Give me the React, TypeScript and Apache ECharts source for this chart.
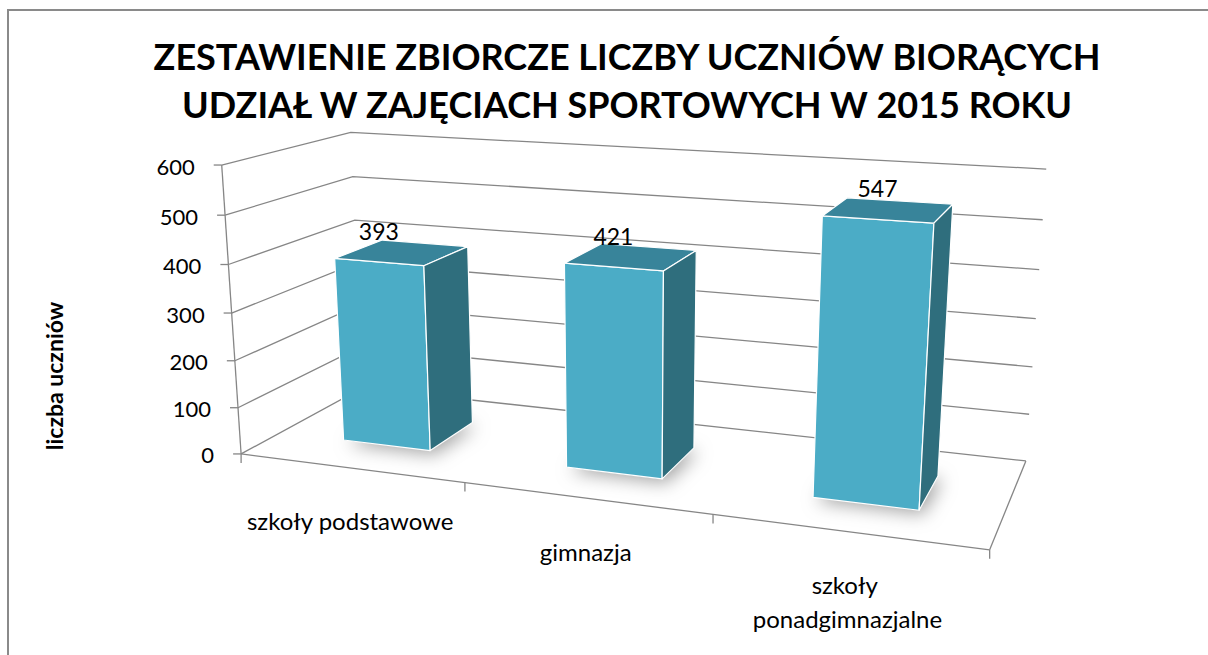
import React, { useEffect, useRef } from "react";
import * as echarts from "echarts";

const TITLE_LINES = [
  "ZESTAWIENIE ZBIORCZE LICZBY UCZNIÓW BIORĄCYCH",
  "UDZIAŁ W ZAJĘCIACH SPORTOWYCH W 2015 ROKU",
];
const Y_AXIS_NAME = "liczba uczniów";
const CATEGORIES = ["szkoły podstawowe", "gimnazja", "szkoły ponadgimnazjalne"];
const VALUES = [393, 421, 547];
const Y_TICKS = [0, 100, 200, 300, 400, 500, 600];
const Y_MIN = 0;
const Y_MAX = 600;
const Y_INTERVAL = 100;

const FONT = "Lato, 'Noto Sans', sans-serif";

// Calibration of the 3D frame: world (X along categories 0..1, Y 0..1 of value range, Z depth 0 front..1 back) -> screen px
const FRAME_ANCHORS: number[][] = [
  [0, 0, 0, 241.7, 454],
  [0, 1, 0, 221.7, 165],
  [0, 5 / 6, 0, 225, 215],
  [0, 0.5, 0, 231.7, 313],
  [0, 1, 1, 351.7, 132.3],
  [0, 5 / 6, 1, 353.3, 176.7],
  [0, 4 / 6, 1, 353, 220],
  [1, 1, 1, 1045, 169.3],
  [1, 5 / 6, 1, 1043, 219.3],
  [1, 0.5, 1, 1037, 319],
  [1, 1 / 6, 1, 1030, 415],
  [1, 0, 1, 1025, 460],
  [1, 0, 0, 990, 550],
  [1 / 3, 0, 0, 465, 483],
  [2 / 3, 0, 0, 712, 514],
];

const BAR_WIDTH_FRAC = 0.4; // of category band
const BAR_Z: [number, number] = [0.3, 0.7];

const COL_FRONT = "#4BACC6";
const COL_TOP = "#38849A";
const COL_SIDE = "#2F6E7D";
const COL_GRID = "#868686";

function fitProjection(anchors: number[][]) {
  const cu = 600, cv = 300, su = 600, sv = 300;
  const n = 11;
  const M: number[][] = Array.from({ length: n }, () => new Array(n).fill(0));
  const r: number[] = new Array(n).fill(0);
  const add = (row: number[], b: number) => {
    for (let i = 0; i < n; i++) {
      r[i] += row[i] * b;
      for (let j = 0; j < n; j++) M[i][j] += row[i] * row[j];
    }
  };
  for (const [X, Y, Z, u0, v0] of anchors) {
    const u = (u0 - cu) / su;
    const v = (v0 - cv) / sv;
    add([X, Y, Z, 1, 0, 0, 0, 0, -u * X, -u * Y, -u * Z], u);
    add([0, 0, 0, 0, X, Y, Z, 1, -v * X, -v * Y, -v * Z], v);
  }
  for (let c = 0; c < n; c++) {
    let piv = c;
    for (let k = c + 1; k < n; k++) if (Math.abs(M[k][c]) > Math.abs(M[piv][c])) piv = k;
    [M[c], M[piv]] = [M[piv], M[c]];
    [r[c], r[piv]] = [r[piv], r[c]];
    for (let k = c + 1; k < n; k++) {
      const f = M[k][c] / M[c][c];
      for (let j = c; j < n; j++) M[k][j] -= f * M[c][j];
      r[k] -= f * r[c];
    }
  }
  const p = new Array(n).fill(0);
  for (let c = n - 1; c >= 0; c--) {
    let s = r[c];
    for (let j = c + 1; j < n; j++) s -= M[c][j] * p[j];
    p[c] = s / M[c][c];
  }
  return (X: number, Y: number, Z: number): number[] => {
    const w = p[8] * X + p[9] * Y + p[10] * Z + 1;
    const u = (p[0] * X + p[1] * Y + p[2] * Z + p[3]) / w;
    const v = (p[4] * X + p[5] * Y + p[6] * Z + p[7]) / w;
    return [u * su + cu, v * sv + cv];
  };
}

const proj = fitProjection(FRAME_ANCHORS);

function toWorld(params: any, api: any, cat: number, value: number) {
  const cs = params.coordSys;
  const pt = api.coord([cat, value]);
  return [(pt[0] - cs.x) / cs.width, (cs.y + cs.height - pt[1]) / cs.height];
}

function signedArea(pts: number[][]) {
  let s = 0;
  for (let i = 0; i < pts.length; i++) {
    const a = pts[i], b = pts[(i + 1) % pts.length];
    s += a[0] * b[1] - b[0] * a[1];
  }
  return s / 2;
}

export default function App() {
  const ref = useRef<HTMLDivElement>(null);
  useEffect(() => {
    document.body.style.margin = "0";
    if (!ref.current) return;
    const chart = echarts.init(ref.current, undefined, { renderer: "svg" });

    const gridSeries = {
      type: "custom",
      coordinateSystem: "cartesian2d",
      silent: true,
      data: Y_TICKS.map((t) => [0, t]),
      renderItem: (params: any, api: any) => {
        const v = api.value(1);
        const [, Y] = toWorld(params, api, 0, v);
        const a = proj(0, Y, 0), b = proj(0, Y, 1), c = proj(1, Y, 1);
        return {
          type: "group",
          children: [
            { type: "polyline", shape: { points: [a, b, c] }, style: { fill: "none", stroke: COL_GRID, lineWidth: 1.3 } },
            { type: "line", shape: { x1: a[0] - 8, y1: a[1], x2: a[0], y2: a[1] }, style: { stroke: COL_GRID, lineWidth: 1.3 } },
            {
              type: "text",
              style: { x: a[0] - 27, y: a[1] + 1, text: String(v), fill: "#000", font: `22px ${FONT}`, align: "right", verticalAlign: "middle" },
            },
          ],
        };
      },
    };

    const frameSeries = {
      type: "custom",
      coordinateSystem: "cartesian2d",
      silent: true,
      data: [[0, 0]],
      renderItem: (params: any, api: any) => {
        const cw = api.size([1, 0])[0] / params.coordSys.width;
        const o = proj(0, 0, 0), t = proj(0, 1, 0), fr = proj(1, 0, 0), br = proj(1, 0, 1);
        const st = { stroke: COL_GRID, lineWidth: 1.3 };
        const children: any[] = [
          { type: "line", shape: { x1: o[0], y1: o[1], x2: t[0], y2: t[1] }, style: st },
          { type: "line", shape: { x1: o[0], y1: o[1], x2: fr[0], y2: fr[1] }, style: st },
          { type: "line", shape: { x1: fr[0], y1: fr[1], x2: br[0], y2: br[1] }, style: st },
        ];
        const nCat = Math.round(1 / cw);
        for (let k = 0; k <= nCat; k++) {
          const p = proj(k * cw, 0, 0);
          children.push({ type: "line", shape: { x1: p[0], y1: p[1], x2: p[0], y2: p[1] + 9 }, style: st });
        }
        return { type: "group", children };
      },
    };

    const barSeries = {
      type: "custom",
      coordinateSystem: "cartesian2d",
      data: VALUES.map((v, i) => [i, v]),
      renderItem: (params: any, api: any) => {
        const i = api.value(0), v = api.value(1);
        const [xc, yt] = toWorld(params, api, i, v);
        const cw = api.size([1, 0])[0] / params.coordSys.width;
        const hw = (cw * BAR_WIDTH_FRAC) / 2;
        const x0 = xc - hw, x1 = xc + hw, y0 = 0, y1 = yt, z0 = BAR_Z[0], z1 = BAR_Z[1];
        const faces = [
          { pts: [[x0, y0, z0], [x0, y1, z0], [x1, y1, z0], [x1, y0, z0]], fill: COL_FRONT },
          { pts: [[x0, y0, z1], [x1, y0, z1], [x1, y1, z1], [x0, y1, z1]], fill: COL_TOP },
          { pts: [[x0, y1, z0], [x0, y1, z1], [x1, y1, z1], [x1, y1, z0]], fill: COL_TOP },
          { pts: [[x1, y0, z0], [x1, y1, z0], [x1, y1, z1], [x1, y0, z1]], fill: COL_SIDE },
          { pts: [[x0, y0, z0], [x0, y0, z1], [x0, y1, z1], [x0, y1, z0]], fill: COL_SIDE },
        ].map((f) => ({ ...f, scr: f.pts.map((q) => proj(q[0], q[1], q[2])) }));
        const ref0 = Math.sign(signedArea(faces[0].scr));
        const foot = [[x0, 0, z0], [x1, 0, z0], [x1, 0, z1], [x0, 0, z1]].map((q) => proj(q[0], q[1], q[2]));
        const children: any[] = [
          {
            type: "polygon",
            shape: { points: foot },
            style: { fill: "rgba(60,60,60,0.6)", shadowBlur: 18, shadowColor: "rgba(0,0,0,0.6)", shadowOffsetX: 4, shadowOffsetY: 4 },
          },
        ];
        for (const f of faces) {
          if (Math.sign(signedArea(f.scr)) !== ref0) continue;
          children.push({
            type: "polygon",
            shape: { points: f.scr },
            style: { fill: f.fill, stroke: "#ffffff", lineWidth: 1.2, lineJoin: "round" },
          });
        }
        const lp = proj(xc, y1, z0);
        children.push({
          type: "text",
          style: { x: lp[0], y: lp[1] - 31, text: String(v), fill: "#000", font: `23px ${FONT}`, align: "center", verticalAlign: "middle" },
        });
        return { type: "group", children };
      },
    };

    const catLabelSeries = {
      type: "custom",
      coordinateSystem: "cartesian2d",
      silent: true,
      data: CATEGORIES.map((_, i) => [i, 0]),
      renderItem: (params: any, api: any) => {
        const i = api.value(0);
        const [xc] = toWorld(params, api, i, Y_MIN);
        const p = proj(xc, 0, 0);
        return {
          type: "text",
          style: {
            x: p[0],
            y: p[1] + 36,
            text: CATEGORIES[params.dataIndex],
            fill: "#000",
            font: `24px ${FONT}`,
            align: "center",
            verticalAlign: "top",
            width: 260,
            overflow: "break",
            lineHeight: 34,
          },
        };
      },
    };

    chart.setOption({
      animation: false,
      backgroundColor: "#ffffff",
      title: {
        text: TITLE_LINES.join("\n"),
        left: 622,
        top: 27,
        textAlign: "center",
        textStyle: { fontFamily: FONT, fontSize: 36, fontWeight: "bold", color: "#000", lineHeight: 48 },
      },
      grid: { left: 0, top: 0, width: 300, height: 300, show: false },
      xAxis: { type: "category", data: CATEGORIES, show: false },
      yAxis: { type: "value", min: Y_MIN, max: Y_MAX, interval: Y_INTERVAL, show: false },
      graphic: [
        {
          type: "rect",
          shape: { x: 8, y: 10, width: 1400, height: 900 },
          style: { fill: "none", stroke: "#8a8a8a", lineWidth: 2 },
          silent: true,
        },
        {
          type: "text",
          x: 54,
          y: 376,
          rotation: Math.PI / 2,
          style: { text: Y_AXIS_NAME, font: `bold 23px ${FONT}`, fill: "#000", align: "center", verticalAlign: "middle" },
        },
      ],
      series: [gridSeries, frameSeries, barSeries, catLabelSeries],
    });
    return () => chart.dispose();
  }, []);
  return <div ref={ref} style={{ width: 1208, height: 655 }} />;
}
